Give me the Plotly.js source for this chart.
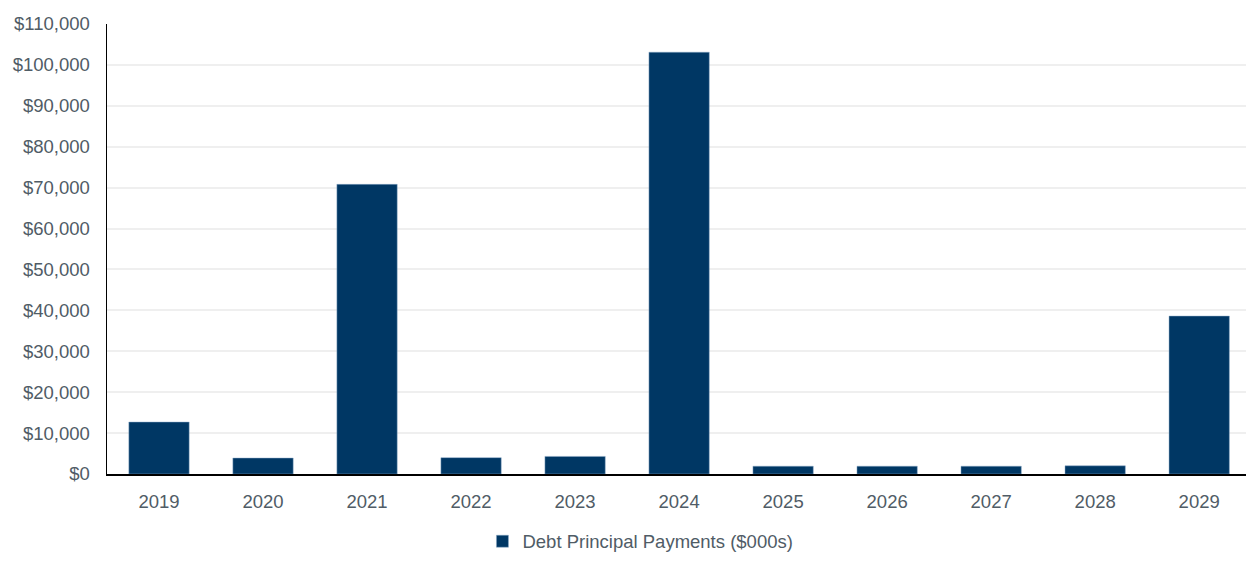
<!DOCTYPE html>
<html>
<head>
<meta charset="utf-8">
<script src="https://cdn.plot.ly/plotly-3.0.1.min.js"></script>
<style>html,body{margin:0;padding:0;background:#fff;}#chart{width:1246px;height:569px;}</style>
</head>
<body>
<div id="chart"></div>
<script>
const years = ['2019','2020','2021','2022','2023','2024','2025','2026','2027','2028','2029'];
const payments = [12700, 3900, 70800, 4000, 4300, 103100, 1900, 1900, 1900, 2000, 38600];
const seriesName = 'Debt Principal Payments ($000s)';
const yTickVals = [0,10000,20000,30000,40000,50000,60000,70000,80000,90000,100000,110000];
const yTickText = ['$0','$10,000','$20,000','$30,000','$40,000','$50,000','$60,000','$70,000','$80,000','$90,000','$100,000','$110,000'];

const textColor = '#505c66';
const fontFam = '"Liberation Sans", Arial, sans-serif';

Plotly.newPlot('chart', [{
  type: 'bar',
  x: years,
  y: payments,
  name: seriesName,
  marker: {color: '#003764', line: {color: 'rgba(140,170,200,0.6)', width: 0.8}},
  hoverinfo: 'none'
}], {
  width: 1246,
  height: 569,
  margin: {l: 107, r: 0, t: 24, b: 95},
  paper_bgcolor: '#ffffff',
  plot_bgcolor: '#ffffff',
  bargap: 0.42,
  showlegend: true,
  font: {family: fontFam, size: 18.5, color: textColor},
  xaxis: {
    type: 'category',
    range: [-0.5, 10.45],
    showline: true,
    linecolor: '#000000',
    linewidth: 1.5,
    showgrid: false,
    ticks: 'outside',
    ticklen: 10,
    tickcolor: 'rgba(0,0,0,0)',
    tickfont: {family: fontFam, size: 18.5, color: textColor},
    zeroline: false
  },
  yaxis: {
    range: [0, 110000],
    tickvals: yTickVals,
    ticktext: yTickText,
    showline: true,
    linecolor: '#000000',
    linewidth: 1.5,
    showgrid: true,
    gridcolor: '#efefef',
    gridwidth: 2,
    zeroline: false,
    ticks: 'outside',
    ticklen: 12,
    tickcolor: 'rgba(0,0,0,0)',
    tickfont: {family: fontFam, size: 18.5, color: textColor}
  },
  legend: {
    orientation: 'h',
    xref: 'container',
    yref: 'container',
    x: 0.514,
    xanchor: 'center',
    y: 0.048,
    yanchor: 'middle',
    font: {family: fontFam, size: 18.5, color: textColor},
    itemwidth: 30
  }
}, {displayModeBar: false, staticPlot: true});
</script>
</body>
</html>
